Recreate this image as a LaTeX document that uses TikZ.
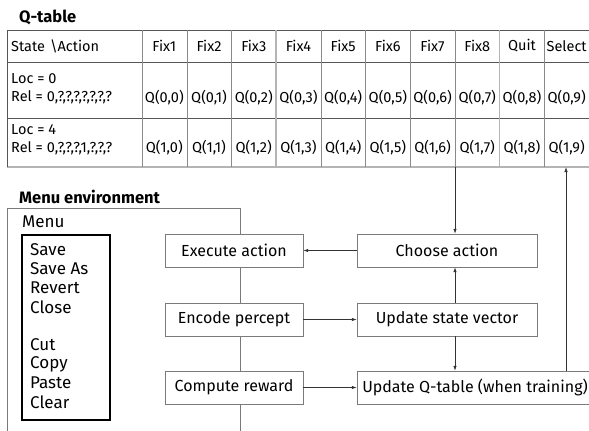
\documentclass[tikz,border=0pt]{standalone}
\usepackage{fontspec}
\setmainfont{Fira Sans}
\usetikzlibrary{positioning, arrows.meta, calc}

\definecolor{rulecol}{HTML}{555555}
\definecolor{thincol}{HTML}{8A8A8A}
\definecolor{palecol}{HTML}{B4B4B4}
\definecolor{boxcol}{HTML}{7A7A7A}

\tikzset{
  cell/.style={inner sep=0pt, font=\fontsize{14.5}{18}\selectfont},
  stepbox/.style={draw=boxcol, fill=white, minimum height=33pt, inner sep=0pt,
    font=\fontsize{16}{18}\selectfont},
  flow/.style={draw=black!80, line width=0.8pt, -{Latex[length=5pt,width=3.5pt]}},
  title/.style={anchor=west, inner sep=0pt, font=\bfseries\fontsize{16.5}{18}\selectfont},
  item/.style={anchor=west, inner sep=0pt, font=\fontsize{17}{19}\selectfont},
}

\begin{document}
\begin{tikzpicture}[x=1pt,y=-1pt]
\useasboundingbox (0,0) rectangle (589,431);
\begin{scope}
\clip (0,0) rectangle (589,431);

% Q-table
\node[title] (qtitle) at (19,17) {Q-table};
\draw[rulecol, line width=1pt] (7,30) -- (595,30);
\draw[rulecol] (7,62) -- (595,62);
\draw[rulecol] (7,118) -- (595,118);
\draw[palecol, line width=1.5pt] (7,167) -- (595,167);
\draw[rulecol] (7,30) -- (7,167);
\foreach \c in {0,1,2,4,5,6,7,9}
  \draw[thincol] ({142+44.7*\c},30) -- ({142+44.7*\c},167);
\foreach \c in {3,8}
  \draw[palecol, line width=1.6pt] ({142+44.7*\c},30) -- ({142+44.7*\c},167);

\node[cell, anchor=west] (hstate) at (11,46) {State\hspace{5pt}\textbackslash Action};
\foreach \name [count=\c from 0] in {Fix1,Fix2,Fix3,Fix4,Fix5,Fix6,Fix7,Fix8,Quit,Select}
  \node[cell] (h\c) at ({164.35+44.7*\c},46) {\name};

\node[cell, anchor=west, align=left] (s0) at (11,88.5) {Loc = 0\\Rel = 0,?,?,?,?,?,?,?};
\node[cell, anchor=west, align=left] (s1) at (11,140) {Loc = 4\\Rel = 0,?,?,?,1,?,?,?};
\foreach \c in {0,...,9}{
  \node[cell] (qa\c) at ({164.35+44.7*\c},98) {Q(0,\c)};
  \node[cell] (qb\c) at ({164.35+44.7*\c},148) {Q(1,\c)};
}
\coordinate (tabdown) at (455,167);
\coordinate (tabup) at (566,167);

% menu environment
\node[title] (mtitle) at (19,197) {Menu environment};
\draw[boxcol] (7,440) |- (240,208) -- (240,440);
\node[item] (mlabel) at (22,222) {Menu};
\draw[black, line width=2.4pt] (22,235) rectangle (110,420);
\foreach \entry/\y in {Save/250,Save As/269,Revert/288,Close/307,Cut/345,Copy/364,Paste/383,Clear/402}
  \node[item] at (30,\y) {\entry};

% agent loop
\node[stepbox, minimum width=138pt] (exec) at (234,250.5) {Execute action};
\node[stepbox, minimum width=138pt] (encode) at (234,319.5) {Encode percept};
\node[stepbox, minimum width=138pt] (reward) at (234,387.5) {Compute reward};
\node[stepbox, minimum width=180pt] (choose) at (447,250.5) {Choose action};
\node[stepbox, minimum width=180pt] (upstate) at (447,319.5) {Update state vector};
\node[stepbox, minimum width=236pt] (upq) at (475,387.5) {Update Q-table (when training)};

\draw[flow] (tabdown) -- (tabdown |- choose.north);
\draw[flow] (choose) -- (exec);
\draw[flow] (encode) -- (upstate);
\draw[flow] (reward) -- (upq);
\draw[flow] (upstate.north -| tabdown) -- (choose.south -| tabdown);
\draw[flow] (upstate.south -| tabdown) -- (upq.north -| tabdown);
\draw[flow] (upq.north -| tabup) -- (tabup);
\end{scope}
\end{tikzpicture}
\end{document}
